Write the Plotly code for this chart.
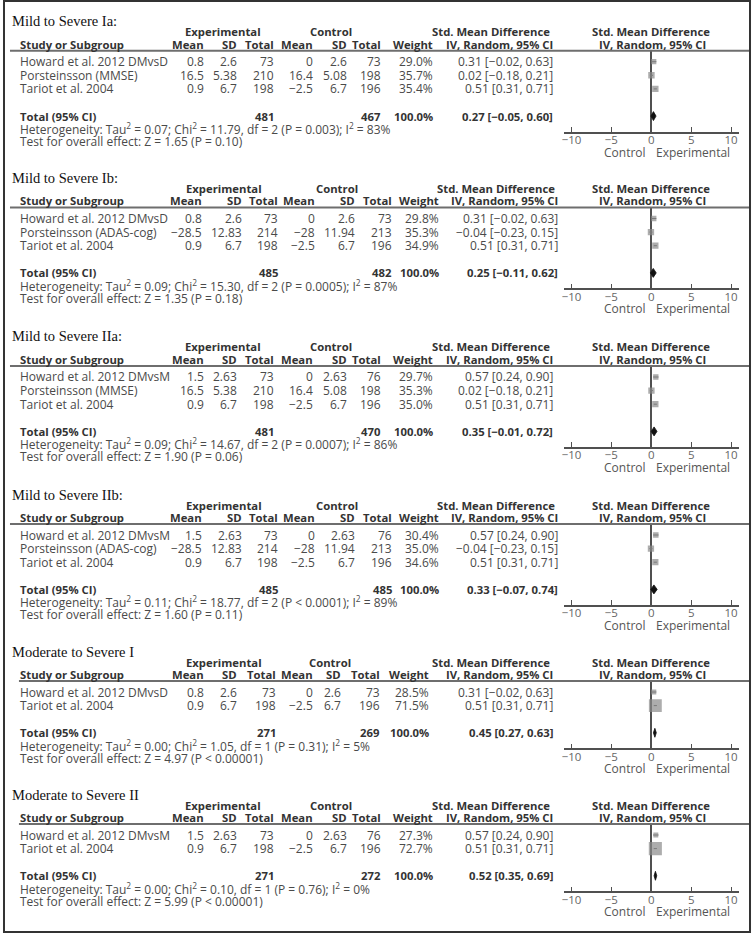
import plotly.graph_objects as go

W, H = 753, 934
SANS = "Open Sans"
SERIF = "Liberation Serif"

# ---- data ----
panel_titles = ["Mild to Severe Ia:", "Mild to Severe Ib:", "Mild to Severe IIa:",
                "Mild to Severe IIb:", "Moderate to Severe I", "Moderate to Severe II"]
study_names = [
    ["Howard et al. 2012 DMvsD", "Porsteinsson (MMSE)", "Tariot et al. 2004"],
    ["Howard et al. 2012 DMvsD", "Porsteinsson (ADAS-cog)", "Tariot et al. 2004"],
    ["Howard et al. 2012 DMvsM", "Porsteinsson (MMSE)", "Tariot et al. 2004"],
    ["Howard et al. 2012 DMvsM", "Porsteinsson (ADAS-cog)", "Tariot et al. 2004"],
    ["Howard et al. 2012 DMvsD", "Tariot et al. 2004"],
    ["Howard et al. 2012 DMvsM", "Tariot et al. 2004"],
]
exp_mean = [[0.8, 16.5, 0.9], [0.8, -28.5, 0.9], [1.5, 16.5, 0.9], [1.5, -28.5, 0.9], [0.8, 0.9], [1.5, 0.9]]
exp_sd = [[2.6, 5.38, 6.7], [2.6, 12.83, 6.7], [2.63, 5.38, 6.7], [2.63, 12.83, 6.7], [2.6, 6.7], [2.63, 6.7]]
exp_n = [[73, 210, 198], [73, 214, 198], [73, 210, 198], [73, 214, 198], [73, 198], [73, 198]]
ctl_mean = [[0, 16.4, -2.5], [0, -28, -2.5], [0, 16.4, -2.5], [0, -28, -2.5], [0, -2.5], [0, -2.5]]
ctl_sd = [[2.6, 5.08, 6.7], [2.6, 11.94, 6.7], [2.63, 5.08, 6.7], [2.63, 11.94, 6.7], [2.6, 6.7], [2.63, 6.7]]
ctl_n = [[73, 198, 196], [73, 213, 196], [76, 198, 196], [76, 213, 196], [73, 196], [76, 196]]
weights = [[29.0, 35.7, 35.4], [29.8, 35.3, 34.9], [29.7, 35.3, 35.0], [30.4, 35.0, 34.6], [28.5, 71.5], [27.3, 72.7]]
smd = [[0.31, 0.02, 0.51], [0.31, -0.04, 0.51], [0.57, 0.02, 0.51], [0.57, -0.04, 0.51], [0.31, 0.51], [0.57, 0.51]]
smd_lo = [[-0.02, -0.18, 0.31], [-0.02, -0.23, 0.31], [0.24, -0.18, 0.31], [0.24, -0.23, 0.31], [-0.02, 0.31], [0.24, 0.31]]
smd_hi = [[0.63, 0.21, 0.71], [0.63, 0.15, 0.71], [0.90, 0.21, 0.71], [0.90, 0.15, 0.71], [0.63, 0.71], [0.90, 0.71]]
total_exp = [481, 485, 481, 485, 271, 271]
total_ctl = [467, 482, 470, 485, 269, 272]
pooled = [0.27, 0.25, 0.35, 0.33, 0.45, 0.52]
pooled_lo = [-0.05, -0.11, -0.01, -0.07, 0.27, 0.35]
pooled_hi = [0.60, 0.62, 0.72, 0.74, 0.63, 0.69]
tau2 = ["0.07", "0.09", "0.09", "0.11", "0.00", "0.00"]
chi2 = ["11.79", "15.30", "14.67", "18.77", "1.05", "0.10"]
chi_df = [2, 2, 2, 2, 1, 1]
chi_p = ["= 0.003", "= 0.0005", "= 0.0007", "< 0.0001", "= 0.31", "= 0.76"]
i2 = [83, 87, 86, 89, 5, 0]
z_val = ["1.65", "1.35", "1.90", "1.60", "4.97", "5.99"]
z_p = ["= 0.10", "= 0.18", "= 0.06", "= 0.11", "< 0.00001", "< 0.00001"]
axis_ticks = [-10, -5, 0, 5, 10]

# ---- layout (pixels) ----
header_y = [50.7, 207.5, 366, 524, 681, 824]
line_left = [8, 8, 8, 8, 17, 17]
cols = [
    [204, 237, 274, 313, 347, 381, 433, 553],
    [202, 242, 278, 315, 355, 392, 439, 558],
    [204, 237, 274, 313, 347, 381, 433, 553],
    [202, 242, 278, 315, 355, 392, 439, 558],
    [204, 237, 276, 313, 341, 380, 429, 553],
    [204, 237, 274, 313, 347, 381, 433, 553],
]
ROW = 13.6
PLOT_L, PLOT_R = 563, 739
TXT = "#4a4a4a"
HDR = "#333333"
REG = 12
BLD = 11.3


def num(v):
    return f"{v:g}".replace("-", "\u2212")


def ci(m, lo, hi):
    return f"{m:.2f} [{lo:.2f}, {hi:.2f}]".replace("-", "\u2212")


def py(y):
    return 1 - y / H


annotations = []


def txt(x, y, s, anchor="left", bold=False, size=None, color=TXT, family=SANS, xref="paper"):
    if size is None:
        size = BLD if bold else REG
    if bold:
        s = f"<b>{s}</b>"
    annotations.append(dict(
        x=x / W if xref == "paper" else x, y=py(y), xref=xref, yref="paper",
        text=s, showarrow=False, xanchor=anchor, yanchor="middle",
        font=dict(family=family, size=size, color=color), borderpad=0))


fig = go.Figure()
shapes = []

for k in range(6):
    L = header_y[k]
    n = len(study_names[k])
    c = cols[k]
    row_y = [L + 11 + i * ROW for i in range(n)]
    tot_y = L + 11 + (n + 1) * ROW
    axis_y = tot_y + 15.5

    # titles and headers
    txt(9, L - 29.5, panel_titles[k], size=14.5, color="#111", family=SERIF)
    txt((c[0] - 28 + c[2]) / 2 - 3, L - 19, "Experimental", "center", True, color=HDR)
    txt((c[3] - 29 + c[5]) / 2 - 3, L - 19, "Control", "center", True, color=HDR)
    txt(c[7] - 3, L - 19, "Std. Mean Difference", "right", True, color=HDR)
    txt(17, L - 6.5, "Study or Subgroup", bold=True, color=HDR)
    for x, s in zip(c, ["Mean", "SD", "Total", "Mean", "SD", "Total", "Weight", "IV, Random, 95% CI"]):
        txt(x, L - 6.5, s, "right", True, color=HDR)
    txt(651, L - 19, "Std. Mean Difference", "center", True, color=HDR)
    txt(652, L - 6.5, "IV, Random, 95% CI", "center", True, color=HDR)

    shapes.append(dict(type="line", xref="paper", yref="paper",
                       x0=line_left[k] / W, x1=750 / W, y0=py(L), y1=py(L),
                       line=dict(color="#6e6e6e", width=2)))

    # study rows
    for i in range(n):
        y = row_y[i]
        txt(17, y, study_names[k][i])
        vals = [num(exp_mean[k][i]), num(exp_sd[k][i]), str(exp_n[k][i]),
                num(ctl_mean[k][i]), num(ctl_sd[k][i]), str(ctl_n[k][i]),
                f"{weights[k][i]:.1f}%", ci(smd[k][i], smd_lo[k][i], smd_hi[k][i])]
        for x, s in zip(c, vals):
            txt(x, y, s, "right")

    # total rows
    txt(17, tot_y, "Total (95% CI)", bold=True, color=HDR)
    txt(c[2], tot_y, str(total_exp[k]), "right", True, color=HDR)
    txt(c[5], tot_y, str(total_ctl[k]), "right", True, color=HDR)
    txt(c[6], tot_y, "100.0%", "right", True, color=HDR)
    txt(c[7], tot_y, ci(pooled[k], pooled_lo[k], pooled_hi[k]), "right", True, color=HDR)
    txt(17, tot_y + 13, f"Heterogeneity: Tau<sup>2</sup> = {tau2[k]}; Chi<sup>2</sup> = {chi2[k]}, "
                        f"df = {chi_df[k]} (P {chi_p[k]}); I<sup>2</sup> = {i2[k]}%")
    txt(17, tot_y + 25.5, f"Test for overall effect: Z = {z_val[k]} (P {z_p[k]})")

    # forest subplot
    xa = "x" if k == 0 else f"x{k + 1}"
    ya = "y" if k == 0 else f"y{k + 1}"
    r_top = -11 / ROW
    r_bot = (axis_y - L - 11) / ROW
    for i in range(n):
        fig.add_trace(go.Scatter(
            x=[smd_lo[k][i], smd_hi[k][i]], y=[i, i], mode="lines",
            line=dict(color="#555", width=1), xaxis=xa, yaxis=ya, hoverinfo="skip"))
    fig.add_trace(go.Scatter(
        x=smd[k], y=list(range(n)), mode="markers", xaxis=xa, yaxis=ya,
        marker=dict(symbol="square", color="#8a8a8a", size=[w * 0.18 for w in weights[k]],
                    line=dict(width=0))))
    t = n + 1
    h = 0.33
    fig.add_trace(go.Scatter(
        x=[pooled_lo[k], pooled[k], pooled_hi[k], pooled[k], pooled_lo[k]],
        y=[t, t - h, t, t + h, t], mode="lines", fill="toself",
        fillcolor="#111", line=dict(color="#111", width=0.8), xaxis=xa, yaxis=ya))

    fig.layout[f"xaxis{'' if k == 0 else k + 1}"] = dict(
        domain=[PLOT_L / W, PLOT_R / W], range=[-11, 11], anchor=ya,
        showgrid=False, zeroline=True, zerolinecolor="#505050", zerolinewidth=1.5,
        showline=True, linecolor="#505050", linewidth=1.5,
        tickvals=axis_ticks, ticks="inside", ticklen=5, tickcolor="#505050",
        tickfont=dict(family=SANS, size=11.5, color="#666"), ticklabelstandoff=-3,
        fixedrange=True)
    fig.layout[f"yaxis{'' if k == 0 else k + 1}"] = dict(
        domain=[py(axis_y), py(L)], range=[r_bot, r_top], anchor=xa,
        visible=False, fixedrange=True)

    txt(-0.5, axis_y + 20.5, "Control", "right", color="#555", xref=xa)
    txt(0.5, axis_y + 20.5, "Experimental", "left", color="#555", xref=xa)

# outer frame
shapes.append(dict(type="rect", xref="paper", yref="paper", x0=2 / W, x1=750 / W,
                   y0=py(932), y1=py(1), line=dict(color="#333", width=2)))

fig.update_layout(
    width=W, height=H, margin=dict(l=0, r=0, t=0, b=0),
    paper_bgcolor="white", plot_bgcolor="rgba(0,0,0,0)",
    showlegend=False, annotations=annotations, shapes=shapes)

fig.write_html("out.html", config={"displayModeBar": False},
               post_script="document.body.style.margin='0';")
